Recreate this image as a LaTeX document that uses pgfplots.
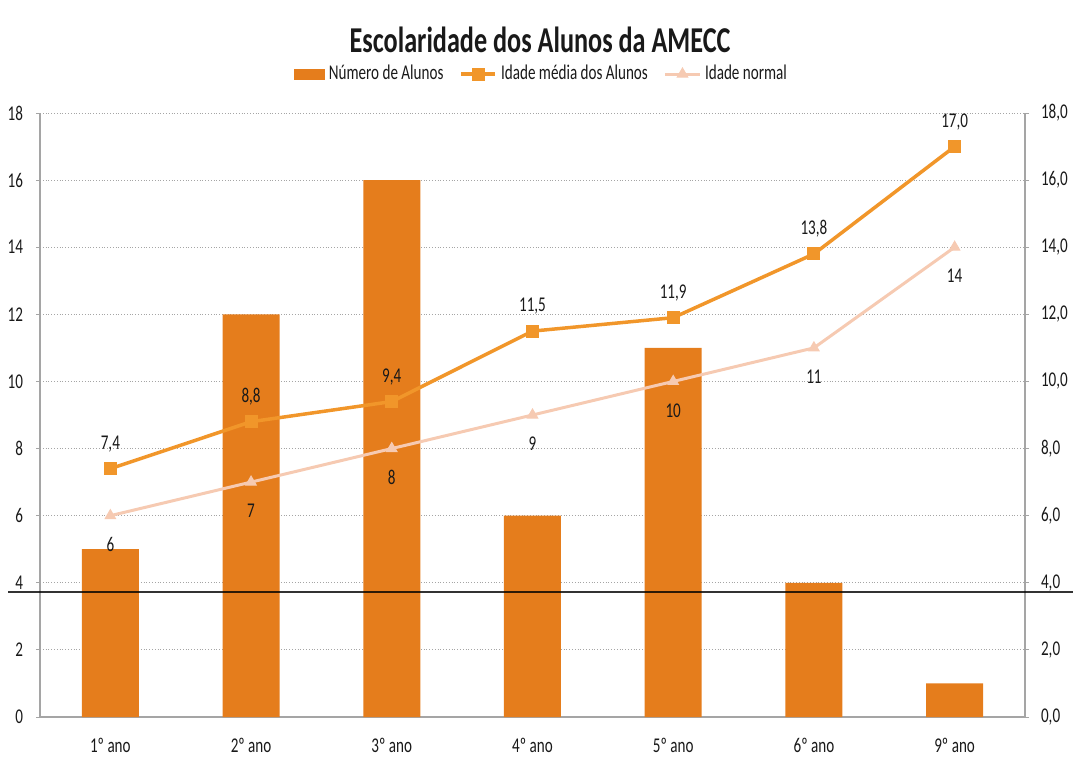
\documentclass[border=0pt]{standalone}
\usepackage{fontspec}
\setmainfont{Carlito}[FakeStretch=0.72]
\usepackage{pgfplots}
\pgfplotsset{compat=1.18}

\definecolor{barorange}{RGB}{229,125,28}
\definecolor{lineorange}{RGB}{241,150,42}
\definecolor{normalpeach}{RGB}{246,202,178}
\definecolor{gridgray}{RGB}{165,165,165}
\definecolor{textdark}{RGB}{25,25,25}

\begin{document}
\begin{tikzpicture}
\path[use as bounding box] (0,0) rectangle (536.5pt,378.5pt);

% left axis: number of pupils per school year
\begin{axis}[
  at={(20pt,20pt)}, anchor=south west, scale only axis,
  width=492.5pt, height=302pt,
  xmin=-0.5, xmax=6.5, ymin=0, ymax=18,
  axis x line*=bottom, axis y line*=left,
  xtick={0,...,6},
  xticklabels={1º ano,2º ano,3º ano,4º ano,5º ano,6º ano,9º ano},
  ytick={0,2,...,18},
  x tick style={draw=none},
  ymajorgrids, grid style={gridgray, densely dotted, line width=0.5pt},
  axis line style={gridgray, line width=0.6pt},
  tick style={gridgray, line width=0.5pt},
  tick align=outside, major tick length=2pt,
  ticklabel style={font=\fontsize{10.5}{12}\selectfont, text=textdark},
  xticklabel style={yshift=-5pt},
  yticklabel style={xshift=-3pt},
  /pgf/number format/assume math mode=true,
]
\addplot[ybar, bar width=28.5pt, fill=barorange, draw=none]
  coordinates {(0,5) (1,12) (2,16) (3,6) (4,11) (5,4) (6,1)};
\end{axis}

% right axis: ages
\begin{axis}[
  at={(20pt,20pt)}, anchor=south west, scale only axis,
  width=492.5pt, height=302pt,
  xmin=-0.5, xmax=6.5, ymin=0, ymax=18,
  axis x line=none, axis y line*=right,
  ytick={0,2,...,18},
  axis line style={gridgray, line width=0.6pt},
  tick style={gridgray, line width=0.5pt},
  tick align=outside, major tick length=2pt,
  ticklabel style={font=\fontsize{10.5}{12}\selectfont, text=textdark},
  yticklabel style={xshift=2.5pt, /pgf/number format/.cd, fixed, fixed zerofill, precision=1, use comma},
  /pgf/number format/assume math mode=true,
  legend columns=3,
  legend style={at={(0.5,1)}, anchor=center, yshift=19.5pt, xshift=5pt,
    draw=none, fill=none, font=\fontsize{10.5}{12}\selectfont, text=textdark,
    /tikz/every even column/.append style={column sep=6pt}},
]
\addlegendimage{legend image code/.code={\fill[barorange] (0pt,-2.5pt) rectangle (15pt,2.5pt);}}
\addlegendentry{Número de Alunos}

\addplot[lineorange, line width=1.75pt, mark=square*, mark size=3pt,
  mark options={fill=lineorange, draw=lineorange, line width=0.5pt},
  nodes near coords,
  every node near coord/.append style={anchor=center, yshift=12.5pt, text=textdark,
    font=\fontsize{10.5}{12}\selectfont,
    /pgf/number format/.cd, fixed, fixed zerofill, precision=1, use comma}]
  coordinates {(0,7.4) (1,8.8) (2,9.4) (3,11.5) (4,11.9) (5,13.8) (6,17.0)};
\addlegendentry{Idade média dos Alunos}

\addplot[normalpeach, line width=1.5pt, mark=triangle*, mark size=3pt,
  mark options={fill=normalpeach, draw=normalpeach, line width=0.5pt},
  nodes near coords,
  every node near coord/.append style={anchor=center, yshift=-14.5pt, text=textdark,
    font=\fontsize{10.5}{12}\selectfont,
    /pgf/number format/.cd, fixed, precision=0}]
  coordinates {(0,6) (1,7) (2,8) (3,9) (4,10) (5,11) (6,14)};
\addlegendentry{Idade normal}
\end{axis}

% chart title
\node[font=\bfseries\fontsize{18.2}{21}\selectfont, text=textdark] at (270pt,358.5pt)
  {Escolaridade dos Alunos da AMECC};

% dark rule running across the sheet
\draw[black, opacity=0.8, line width=0.7pt] (4pt,82.5pt) -- (536.5pt,82.5pt);
\end{tikzpicture}
\end{document}
